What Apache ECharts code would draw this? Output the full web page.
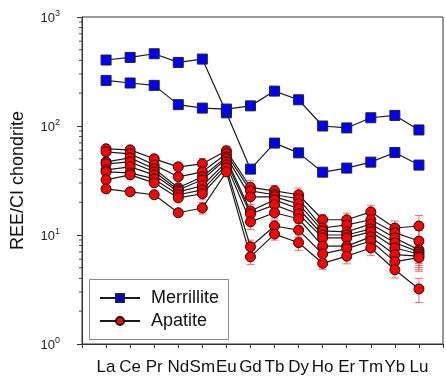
<!DOCTYPE html>
<html><head><meta charset="utf-8">
<script src="https://cdn.jsdelivr.net/npm/echarts@6/dist/echarts.min.js"></script>
<style>html,body{margin:0;padding:0;background:#fff}#c{width:446px;height:377px}</style>
</head><body><div id="c"></div>
<script>
const categories = ['La','Ce','Pr','Nd','Sm','Eu','Gd','Tb','Dy','Ho','Er','Tm','Yb','Lu'];
const yTicks = [1, 10, 100, 1000];
const minorTickValues = [2,3,4,5,6,7,8,9,20,30,40,50,60,70,80,90,200,300,400,500,600,700,800,900];

const merrillite1 = [403, 426, 460, 383, 411, 132, 40.2, 69.7, 56.7, 37.7, 41.1, 46.6, 57.1, 43.8];
const merrillite2 = [262, 248, 236, 157, 146, 143, 153, 209, 174, 100, 96, 119, 125, 92];

const apatite1 = [61.8, 60.4, 50, 42.2, 45, 59.2, 27.4, 25.4, 23.4, 13.8, 13.8, 16.3, 11.6, 12.1];
const apatite2 = [58, 55.6, 44, 34.2, 38, 55.6, 25.4, 23.4, 21.5, 11.6, 12.4, 13.8, 10.5, 8.8];
const apatite3 = [46.9, 51.0, 40.5, 27.1, 34.2, 52.1, 22.4, 22.4, 19.3, 10.9, 10.7, 12.6, 9.4, 7.3];
const apatite4 = [45, 46.9, 38, 25.9, 32.1, 50, 16.6, 21.0, 17.4, 10.0, 10.0, 11.4, 8.5, 7.0];
const apatite5 = [39.6, 42.2, 35.6, 24.9, 28.3, 46.9, 15.6, 18.9, 15.6, 9.4, 9.4, 10.7, 7.6, 6.7];
const apatite6 = [38, 37.1, 32.7, 23.4, 25.9, 44, 13.2, 16.0, 14.1, 7.9, 7.9, 9.6, 6.6, 6.4];
const apatite7 = [32.1, 35.6, 30.1, 21.9, 23.9, 41.3, 7.8, 12.1, 11.1, 6.7, 7.5, 8.8, 5.7, 6.2];
const apatite8 = [26.5, 24.9, 23.4, 16.0, 17.7, 38, 6.3, 10.2, 8.5, 5.5, 6.4, 7.6, 4.8, 3.2];
// relative 1-sigma error of apatite analyses per element
const apatiteRelErr = [0.05, 0.05, 0.05, 0.06, 0.12, 0.1, 0.15, 0.12, 0.15, 0.12, 0.15, 0.15, 0.16, 0.25];

const merrilliteSeries = [merrillite1, merrillite2];
const apatiteSeries = [apatite1, apatite2, apatite3, apatite4, apatite5, apatite6, apatite7, apatite8];

const FONT = '"Liberation Sans", Arial, sans-serif';
const toPts = arr => arr.map((v, i) => [i + 1, v]);

const series = [];
// error bars
const errData = [];
apatiteSeries.forEach(s => s.forEach((v, i) => {
  errData.push([i + 1, v * (1 - apatiteRelErr[i]), v * (1 + apatiteRelErr[i])]);
}));
series.push({
  type: 'custom', name: 'err', z: 1, silent: true,
  data: errData,
  renderItem: (params, api) => {
    const lo = api.coord([api.value(0), api.value(1)]);
    const hi = api.coord([api.value(0), api.value(2)]);
    const w = 4;
    const st = {stroke: '#ff6a6a', lineWidth: 1};
    return {type: 'group', children: [
      {type: 'line', shape: {x1: lo[0], y1: lo[1], x2: hi[0], y2: hi[1]}, style: st},
      {type: 'line', shape: {x1: lo[0]-w, y1: lo[1], x2: lo[0]+w, y2: lo[1]}, style: st},
      {type: 'line', shape: {x1: hi[0]-w, y1: hi[1], x2: hi[0]+w, y2: hi[1]}, style: st}
    ]};
  }
});
// minor ticks on log axis
series.push({
  type: 'custom', name: 'minor', z: 1, silent: true,
  data: minorTickValues.map(v => [0, v]),
  renderItem: (params, api) => {
    const p = api.coord([0, api.value(1)]);
    return {type: 'line', shape: {x1: p[0] - 3, y1: p[1], x2: p[0], y2: p[1]}, style: {stroke: '#444', lineWidth: 1}};
  }
});
apatiteSeries.forEach(s => series.push({
  type: 'line', name: 'Apatite', data: toPts(s), z: 3,
  symbol: 'circle', symbolSize: 10,
  lineStyle: {color: '#1a1a1a', width: 1.2},
  itemStyle: {color: '#ff0000', borderColor: '#111', borderWidth: 1},
  emphasis: {disabled: true}
}));
merrilliteSeries.forEach(s => series.push({
  type: 'line', name: 'Merrillite', data: toPts(s), z: 4,
  symbol: 'rect', symbolSize: 10,
  lineStyle: {color: '#1a1a1a', width: 1.2},
  itemStyle: {color: '#0000ff', borderColor: '#222', borderWidth: 1},
  emphasis: {disabled: true}
}));

const chart = echarts.init(document.getElementById('c'), null, {renderer: 'canvas'});
chart.setOption({
  animation: false,
  backgroundColor: '#fff',
  grid: {left: 82, top: 17, right: -4, bottom: 33, show: true, borderColor: '#333', borderWidth: 1},
  graphic: [{type: 'rect', left: 89, top: 279, z: 10,
    shape: {width: 139, height: 60}, style: {fill: '#fff', stroke: '#888', lineWidth: 1}}],
  legend: {
    data: ['Merrillite', 'Apatite'], orient: 'vertical', left: 99, top: 288, z: 20, padding: 0,
    itemWidth: 40, itemHeight: 10, itemGap: 3,
    textStyle: {fontFamily: FONT, fontSize: 18, color: '#111', lineHeight: 20, padding: [0, 0, 0, 6]}
  },
  xAxis: {
    type: 'value', min: 0, max: 15, interval: 1,
    axisLine: {show: true, lineStyle: {color: '#333'}},
    axisTick: {show: true, length: 4, lineStyle: {color: '#333'}},
    splitLine: {show: false},
    axisLabel: {
      margin: 15, fontFamily: FONT, fontSize: 17, color: '#111',
      formatter: v => (v >= 1 && v <= categories.length) ? categories[v - 1] : ''
    }
  },
  yAxis: {
    type: 'log', logBase: 10, min: yTicks[0], max: yTicks[yTicks.length - 1],
    name: 'REE/CI chondrite', nameLocation: 'middle', nameGap: 55,
    nameTextStyle: {fontFamily: FONT, fontSize: 18, color: '#111'},
    axisLine: {show: true, lineStyle: {color: '#333'}},
    axisTick: {show: true, length: 5, lineStyle: {color: '#333'}},
    splitLine: {show: false},
    axisLabel: {
      margin: 22, fontFamily: FONT, color: '#222',
      formatter: v => '{b|10}{s|' + Math.round(Math.log10(v)) + '}',
      rich: {
        b: {fontFamily: FONT, fontSize: 13, color: '#222', verticalAlign: 'bottom'},
        s: {fontFamily: FONT, fontSize: 9, color: '#222', verticalAlign: 'bottom', padding: [0, 0, 7, 0]}
      }
    }
  },
  series: series
});
</script></body></html>
